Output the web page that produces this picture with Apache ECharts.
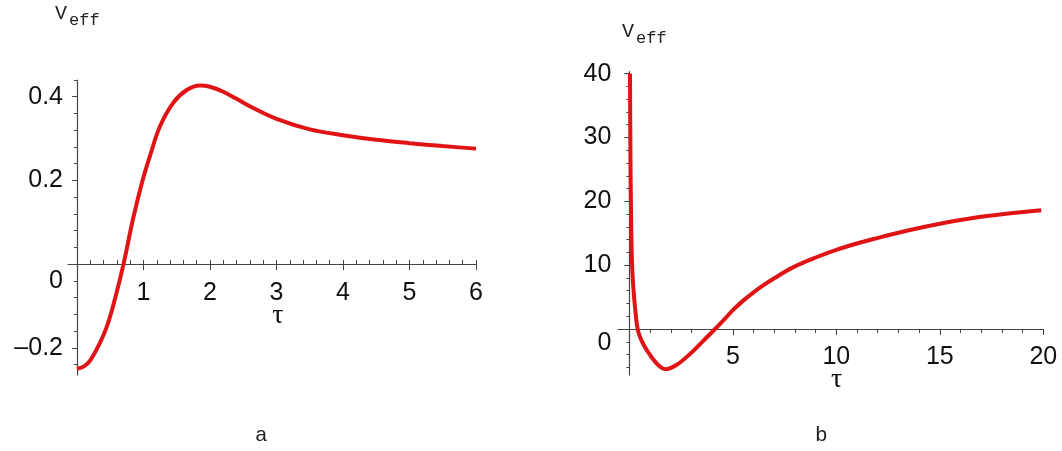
<!DOCTYPE html>
<html>
<head>
<meta charset="utf-8">
<script src="https://cdn.jsdelivr.net/npm/echarts@6/dist/echarts.min.js"></script>
<style>
	html,body{margin:0;padding:0;background:#fff;}
	#main{width:1062px;height:451px;}
</style>
</head>
<body>
<div id="main"></div>
<script>
// 图a
var tauA = [0, 0.1, 0.2, 0.34, 0.45, 0.56, 0.7, 0.84, 0.99, 1.1, 1.25, 1.45, 1.65, 1.85, 2.0, 2.2, 2.4, 2.65, 3.0, 3.5, 4.0, 4.5, 5.0, 5.5, 6.0];
var vA = [-0.25, -0.245, -0.23, -0.19, -0.149, -0.09, 0, 0.106, 0.202, 0.26, 0.33, 0.386, 0.416, 0.427, 0.424, 0.412, 0.395, 0.373, 0.347, 0.322, 0.308, 0.297, 0.289, 0.282, 0.276];
var xTicksA = [1, 2, 3, 4, 5, 6];
var yTicksA = [-0.2, 0, 0.2, 0.4];
// 图b
var tauB = [0.03, 0.05, 0.08, 0.12, 0.18, 0.27, 0.4, 0.6, 0.84, 1.32, 1.75, 2.29, 2.93, 3.57, 4.14, 4.6, 5.0, 5.5, 6.0, 6.5, 7.0, 7.9, 9.0, 10.0, 11.0, 11.8, 13.4, 15.0, 16.6, 18.2, 19.9];
var vB = [40, 28, 18, 11, 7, 3.5, 0, -1.9, -3.3, -5.4, -6.3, -5.6, -3.9, -1.85, 0, 1.55, 2.95, 4.45, 5.75, 6.9, 7.95, 9.65, 11.2, 12.4, 13.4, 14.1, 15.4, 16.5, 17.4, 18.05, 18.6];
var xTicksB = [5, 10, 15, 20];
var yTicksB = [0, 10, 20, 30, 40];

var CH = function(){
	this.axisColor = '#444';
	this.lineColor = '#e01414';
	this.labelFont = 'Liberation Sans';
	this.grids = [];
	this.xAxes = [];
	this.yAxes = [];
	this.series = [];
}

CH.prototype = {
	init: function(){
		var _this = this;
		//左图: 绘图区, x范围, y范围
		_this.addPanel({left: 68, top: 80, width: 408, height: 295}, [-0.135, 6], [-0.265, 0.44],
			{x: xTicksA, y: yTicksA, xMinor: _this.steps(0.2, 6, 0.2), yMinor: _this.steps(-0.24, 0.44, 0.04),
			 minorInside: true, yMargin: 14, zeroPad: 34, nameGap: 38, data: _this.pairs(tauA, vA)});
		_this.addPanel({left: 618, top: 71.7, width: 425.3, height: 303.3}, [-0.55, 20], [-7.2, 40.3],
			{x: xTicksB, y: yTicksB, xMinor: _this.steps(1, 20, 1), yMinor: _this.steps(-6, 40, 2),
			 minorInside: false, yMargin: 18, zeroPad: 28, nameGap: 37, data: _this.pairs(tauB, vB)});
		var myChart = echarts.init(document.getElementById('main'));
		myChart.setOption({
			backgroundColor: '#fff',
			animation: false,
			grid: _this.grids,
			xAxis: _this.xAxes,
			yAxis: _this.yAxes,
			series: _this.series,
			graphic: _this.texts()
		});
	},
	pairs: function(xs, ys){
		var arr = [];
		for (var i = 0; i < xs.length; i++) { arr.push([xs[i], ys[i]]); }
		return arr;
	},
	steps: function(from, to, step){	//小刻度位置
		var arr = [];
		var n = Math.round((to - from)/step);
		for (var i = 0; i <= n; i++) { arr.push(+(from + i*step).toFixed(4)); }
		return arr;
	},
	fmt: function(v){
		if (v === 0) return '{z|0}';
		var s = String(+v.toFixed(2));
		return s.charAt(0) === '-' ? '\u2013' + s.slice(1) : s;
	},
	hidden: function(grid, range){
		return {type: 'value', gridIndex: grid, min: range ? range[0] : 0, max: range ? range[1] : 1, show: false,
			axisLine: {onZero: false}, splitLine: {show: false}};
	},
	addPanel: function(box, xr, yr, ops){
		var _this = this;
		var g = _this.grids.length;
		var zeroY = box.top + box.height * yr[1] / (yr[1] - yr[0]);
		var zeroX = box.left + box.width * (-xr[0]) / (xr[1] - xr[0]);
		//轴放在零点: 另开两个grid, 边缘正好落在零点上
		_this.grids.push(box);
		_this.grids.push({left: box.left, top: box.top, width: box.width, height: zeroY - box.top});
		_this.grids.push({left: zeroX, top: box.top, width: box.left + box.width - zeroX, height: box.height});

		var xi = _this.xAxes.length, yi = _this.yAxes.length;
		_this.xAxes.push(_this.hidden(g, xr));
		_this.yAxes.push(_this.hidden(g, yr));
		_this.series.push({
			type: 'line', xAxisIndex: xi, yAxisIndex: yi, data: ops.data,
			showSymbol: false, smooth: 0.35, clip: true,
			lineStyle: {color: _this.lineColor, width: 4},
			itemStyle: {color: _this.lineColor}
		});

		// x轴 (零线)
		_this.xAxes.push({
			type: 'value', gridIndex: g + 1, min: xr[0], max: xr[1], position: 'bottom',
			name: '\u03c4', nameLocation: 'middle', nameGap: ops.nameGap, nameMoveOverlap: false,
			nameTextStyle: {fontFamily: 'Liberation Serif', fontSize: 28, color: '#111', padding: [0, 0, 0, 12]},
			splitLine: {show: false},
			axisLine: {show: true, onZero: false, lineStyle: {color: _this.axisColor, width: 1.2}},
			axisTick: {show: true, customValues: ops.x, length: 6, lineStyle: {color: _this.axisColor}},
			axisLabel: {customValues: ops.x, margin: 16, fontFamily: _this.labelFont, fontSize: 25, color: '#111'}
		});
		_this.xAxes.push({
			type: 'value', gridIndex: g + 1, min: xr[0], max: xr[1], position: 'bottom',
			splitLine: {show: false},
			axisLine: {show: false, onZero: false},
			axisTick: {show: true, customValues: ops.xMinor, inside: ops.minorInside, length: 4, lineStyle: {color: _this.axisColor}},
			axisLabel: {show: false}
		});
		_this.yAxes.push(_this.hidden(g + 1));
		_this.xAxes.push(_this.hidden(g + 2));

		// y轴 (零线)
		_this.yAxes.push({
			type: 'value', gridIndex: g + 2, min: yr[0], max: yr[1], position: 'left',
			splitLine: {show: false},
			axisLine: {show: true, onZero: false, lineStyle: {color: _this.axisColor, width: 1.2}},
			axisTick: {show: true, customValues: ops.y, length: 5, lineStyle: {color: _this.axisColor}},
			axisLabel: {
				customValues: ops.y, margin: ops.yMargin, fontFamily: _this.labelFont, fontSize: 25, color: '#111',
				formatter: _this.fmt,
				rich: {z: {fontFamily: _this.labelFont, fontSize: 25, color: '#111', padding: [ops.zeroPad, 0, 0, 0]}}
			}
		});
		_this.yAxes.push({
			type: 'value', gridIndex: g + 2, min: yr[0], max: yr[1], position: 'left',
			splitLine: {show: false},
			axisLine: {show: false, onZero: false},
			axisTick: {show: true, customValues: ops.yMinor, length: 3, lineStyle: {color: _this.axisColor}},
			axisLabel: {show: false}
		});
	},
	texts: function(){
		var mono = function(size){ return size + 'px "Liberation Mono"'; };
		var t = function(left, top, text, size){
			return {type: 'text', left: left, top: top, style: {text: text, font: mono(size), fill: '#222'}};
		};
		return [
			t(55, 4, 'V', 20), t(69, 12, 'eff', 17),
			t(622, 22, 'V', 20), t(636, 30, 'eff', 17),
			t(255, 425, 'a', 21), t(815, 425, 'b', 21)
		];
	}
}

new CH().init();
</script>
</body>
</html>
